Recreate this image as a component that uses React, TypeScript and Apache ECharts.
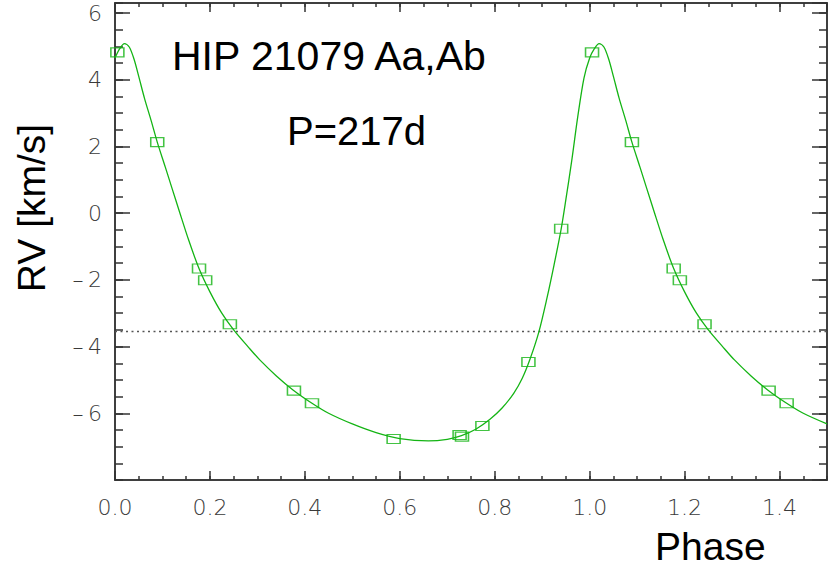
import React, { useEffect, useRef } from "react";
import * as echarts from "echarts";

// Fitted orbit curve (phase 0..1)
const curvePhase = [
  0.0, 0.01, 0.02, 0.03, 0.04, 0.05, 0.062, 0.076, 0.089, 0.106, 0.12, 0.135,
  0.155, 0.177, 0.2, 0.225, 0.25, 0.28, 0.305, 0.34, 0.375, 0.415, 0.45, 0.5,
  0.55, 0.6, 0.66, 0.7, 0.73, 0.76, 0.79, 0.815, 0.84, 0.858, 0.875, 0.893,
  0.91, 0.925, 0.94, 0.95, 0.962, 0.975, 0.988, 1.0,
];
const curveRV = [
  4.65, 4.93, 5.08, 4.98, 4.62, 4.1, 3.45, 2.78, 2.13, 1.38, 0.75, 0.08,
  -0.8, -1.66, -2.36, -3.0, -3.5, -4.0, -4.4, -4.88, -5.3, -5.7, -6.0, -6.32,
  -6.58, -6.76, -6.83, -6.78, -6.67, -6.48, -6.18, -5.85, -5.4, -4.95, -4.35, -3.56,
  -2.55, -1.55, -0.47, 0.42, 1.55, 2.9, 4.05, 4.65,
];

// Observations (phase, RV km/s)
const obsPhase = [0.005, 0.089, 0.177, 0.19, 0.242, 0.377, 0.415, 0.587, 0.726, 0.731, 0.774, 0.871, 0.94];
const obsRV = [4.82, 2.13, -1.66, -2.01, -3.33, -5.32, -5.7, -6.77, -6.65, -6.7, -6.38, -4.46, -0.47];

// Systemic velocity level
const systemicRV = -3.55;

// Axis ranges / ticks
const xRange = [0, 1.5];
const yRange = [-8, 6.3];
const xMajorStep = 0.2;
const xMinorStep = 0.05;
const yMajorStep = 2;
const yMinorStep = 0.5;

const GREEN = "#14b414";
const AXIS = "#333333";

export default function App() {
  const ref = useRef<HTMLDivElement>(null);

  useEffect(() => {
    if (!ref.current) return;
    const chart = echarts.init(ref.current, null, { renderer: "svg" });

    const curveData: number[][] = [];
    curvePhase.forEach((p, i) => curveData.push([p, curveRV[i]]));
    curvePhase.forEach((p, i) => {
      if (p > 0 && p + 1 <= xRange[1] + 1e-9) curveData.push([p + 1, curveRV[i]]);
    });

    const obsData: number[][] = [];
    obsPhase.forEach((p, i) => {
      obsData.push([p, obsRV[i]]);
      if (p + 1 <= xRange[1]) obsData.push([p + 1, obsRV[i]]);
    });

    const labelFont = {
      fontFamily: "DejaVu Sans",
      fontWeight: 200,
      fontSize: 22,
      color: "#3a3a3a",
    };

    const mkX = (position: string, step: number, len: number, label: boolean) => ({
      type: "value",
      gridIndex: 0,
      position,
      min: xRange[0],
      max: xRange[1],
      interval: step,
      axisLine: { show: true, onZero: false, lineStyle: { color: AXIS, width: 1.5 } },
      axisTick: { show: true, inside: true, length: len, lineStyle: { color: AXIS, width: 1.5 } },
      axisLabel: {
        show: label,
        showMaxLabel: false,
        margin: 16,
        formatter: (v: number) => v.toFixed(1),
        ...labelFont,
      },
      splitLine: { show: false },
    });

    const mkY = (position: string, step: number, len: number, label: boolean) => ({
      type: "value",
      gridIndex: 0,
      position,
      min: yRange[0],
      max: yRange[1],
      interval: step,
      axisLine: { show: true, onZero: false, lineStyle: { color: AXIS, width: 1.5 } },
      axisTick: { show: true, inside: true, length: len, lineStyle: { color: AXIS, width: 1.5 } },
      axisLabel: {
        show: label,
        showMinLabel: false,
        showMaxLabel: false,
        margin: 13,
        formatter: (v: number) => {
          const r = Math.round(v);
          return r < 0 ? "\u2013\u2009" + Math.abs(r) : String(r);
        },
        ...labelFont,
      },
      splitLine: { show: false },
    });

    const option: any = {
      animation: false,
      backgroundColor: "#ffffff",
      grid: {
        left: 115,
        right: 3,
        top: 3,
        bottom: 87,
        containLabel: false,
        outerBoundsMode: "none",
      },
      xAxis: [
        mkX("bottom", xMajorStep, 9, true),
        mkX("bottom", xMinorStep, 4, false),
        mkX("top", xMajorStep, 9, false),
        mkX("top", xMinorStep, 4, false),
      ],
      yAxis: [
        mkY("left", yMajorStep, 15, true),
        mkY("left", yMinorStep, 8, false),
        mkY("right", yMajorStep, 15, false),
        mkY("right", yMinorStep, 8, false),
      ],
      series: [
        {
          type: "line",
          xAxisIndex: 0,
          yAxisIndex: 0,
          data: [
            [xRange[0], systemicRV],
            [xRange[1], systemicRV],
          ],
          symbol: "none",
          lineStyle: { color: "#555555", width: 1.4, type: [2, 3.5] },
          silent: true,
        },
        {
          type: "line",
          xAxisIndex: 0,
          yAxisIndex: 0,
          data: curveData,
          symbol: "none",
          smooth: 0.3,
          lineStyle: { color: GREEN, width: 1.3 },
          silent: true,
        },
        {
          type: "scatter",
          xAxisIndex: 0,
          yAxisIndex: 0,
          data: obsData,
          symbol: "rect",
          symbolSize: [13, 9],
          itemStyle: { color: "rgba(0,0,0,0)", borderColor: GREEN, borderWidth: 1.3 },
          z: 5,
        },
      ],
      graphic: [
        {
          type: "text",
          left: 172,
          top: 35,
          style: {
            text: "HIP 21079 Aa,Ab",
            fontFamily: "Liberation Sans",
            fontSize: 41,
            fill: "#000",
          },
        },
        {
          type: "text",
          left: 287,
          top: 111,
          style: {
            text: "P=217d",
            fontFamily: "Liberation Sans",
            fontSize: 40,
            fill: "#000",
          },
        },
        {
          type: "text",
          x: 31,
          y: 208,
          rotation: Math.PI / 2,
          style: {
            text: "RV [km/s]",
            fontFamily: "Liberation Sans",
            fontSize: 39,
            fill: "#000",
            align: "center",
            verticalAlign: "middle",
          },
        },
        {
          type: "text",
          left: 655,
          top: 527,
          style: {
            text: "Phase",
            fontFamily: "Liberation Sans",
            fontSize: 39,
            lineHeight: 39,
            fill: "#000",
          },
        },
      ],
    };

    chart.setOption(option);
    return () => chart.dispose();
  }, []);

  return (
    <div
      ref={ref}
      style={{ position: "fixed", left: 0, top: 0, width: 830, height: 567, background: "#fff" }}
    />
  );
}
